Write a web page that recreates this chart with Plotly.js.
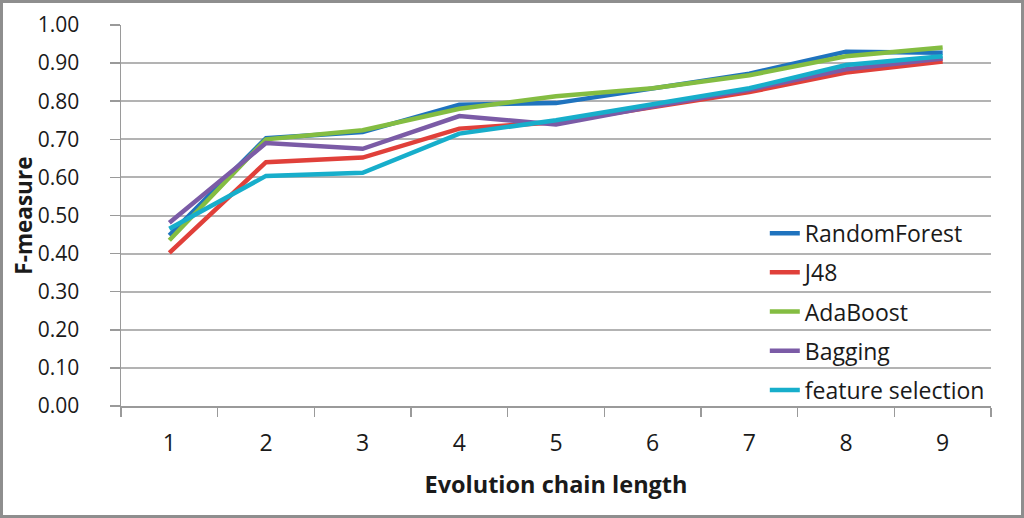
<!DOCTYPE html>
<html>
<head>
<meta charset="utf-8">
<script src="https://cdn.plot.ly/plotly-3.0.1.min.js"></script>
<style>
  html, body { margin: 0; padding: 0; background: #fff; }
  #wrap { position: relative; width: 1024px; height: 518px; }
  #chart { position: absolute; left: 0; top: 0; width: 1024px; height: 518px; }
  #frame { position: absolute; left: 0; top: 0; width: 1024px; height: 518px;
           box-sizing: border-box; border: 3px solid #8e8e8e; pointer-events: none; }
</style>
</head>
<body>
<div id="wrap"><div id="chart"></div><div id="frame"></div></div>
<script>
const categories = ["1", "2", "3", "4", "5", "6", "7", "8", "9"];
const seriesNames = ["RandomForest", "J48", "AdaBoost", "Bagging", "feature selection"];
const randomForest     = [0.448, 0.703, 0.719, 0.791, 0.795, 0.833, 0.872, 0.930, 0.927];
const j48              = [0.402, 0.640, 0.652, 0.728, 0.745, 0.785, 0.824, 0.875, 0.904];
const adaBoost         = [0.435, 0.700, 0.724, 0.780, 0.813, 0.834, 0.868, 0.918, 0.941];
const bagging          = [0.481, 0.690, 0.675, 0.761, 0.739, 0.786, 0.830, 0.884, 0.912];
const featureSelection = [0.465, 0.604, 0.612, 0.715, 0.750, 0.792, 0.834, 0.895, 0.918];
const yTicks = [0, 0.1, 0.2, 0.3, 0.4, 0.5, 0.6, 0.7, 0.8, 0.9, 1.0];
const xTitle = "Evolution chain length";
const yTitle = "F-measure";

const colors = ["#1F73BE", "#E0403A", "#84BD42", "#7B5BA6", "#17AECB"];
const allSeries = [randomForest, j48, adaBoost, bagging, featureSelection];

const fontFam = "'Open Sans', 'Noto Sans', sans-serif";

const traces = allSeries.map((vals, i) => ({
  type: "scatter",
  mode: "lines",
  x: categories,
  y: vals,
  name: seriesNames[i],
  legendgroup: "g" + i,
  line: { color: colors[i], width: 4.5 },
  hoverinfo: "x+y+name"
}));

const layout = {
  width: 1024,
  height: 518,
  margin: { l: 121, r: 33, t: 25, b: 112 },
  paper_bgcolor: "#ffffff",
  plot_bgcolor: "#ffffff",
  font: { family: fontFam, color: "#1a1a1a", size: 22 },
  showlegend: true,
  legend: {
    x: 0.74, xanchor: "left",
    y: 0.51, yanchor: "top",
    bgcolor: "rgba(0,0,0,0)",
    font: { family: fontFam, size: 23, color: "#1a1a1a" },
    tracegroupgap: 6.3
  },
  xaxis: {
    type: "category",
    range: [-0.5, 8.5],
    showgrid: false,
    showline: true,
    linecolor: "#9a9a9a",
    linewidth: 1.5,
    ticks: "outside",
    tickson: "boundaries",
    ticklen: 9,
    tickcolor: "#9a9a9a",
    tickwidth: 1.5,
    tickfont: { family: fontFam, size: 23, color: "#1a1a1a" },
    ticklabelstandoff: 16,
    title: { text: "<b>" + xTitle + "</b>", font: { family: fontFam, size: 23.5, color: "#1a1a1a" }, standoff: 19 },
    zeroline: false
  },
  yaxis: {
    range: [0, 1.0],
    tickvals: yTicks,
    tickformat: ".2f",
    showgrid: true,
    gridcolor: "#b3b3b3",
    gridwidth: 2,
    showline: true,
    linecolor: "#9a9a9a",
    linewidth: 1.5,
    ticks: "outside",
    ticklen: 10,
    tickcolor: "#9a9a9a",
    tickwidth: 1.5,
    tickfont: { family: fontFam, size: 21, color: "#1a1a1a" },
    ticklabelstandoff: 26,
    zeroline: false
  },
  annotations: [{
    text: "<b>" + yTitle + "</b>",
    xref: "paper", yref: "paper",
    x: -0.1125, y: 0.5,
    xanchor: "center", yanchor: "middle",
    textangle: -90,
    showarrow: false,
    font: { family: fontFam, size: 22.5, color: "#1a1a1a" }
  }]
};

Plotly.newPlot("chart", traces, layout, { displayModeBar: false, staticPlot: true });
</script>
</body>
</html>
